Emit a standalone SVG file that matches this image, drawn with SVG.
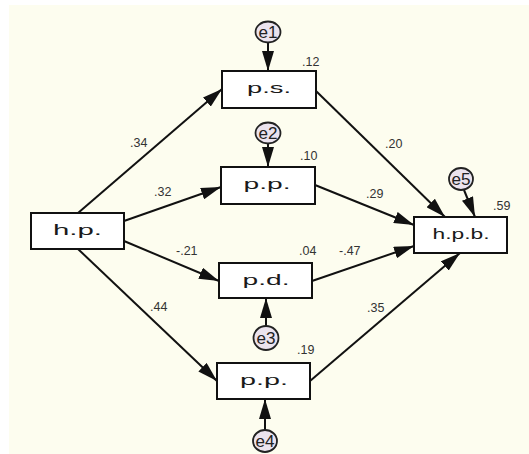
<svg xmlns="http://www.w3.org/2000/svg" width="529" height="454" viewBox="0 0 529 454">
<style>
.box{fill:#ffffff;stroke:#111;stroke-width:2}
.lbl{font-family:"Liberation Sans",Arial,sans-serif;font-size:15.5px;fill:#1a1a1a;text-anchor:middle}
.num{font-family:"Liberation Sans",Arial,sans-serif;font-size:12.5px;fill:#333}
.err{fill:#ebe3ee;stroke:#222;stroke-width:1.8}
.etx{font-family:"Liberation Sans",Arial,sans-serif;font-size:16px;fill:#222;text-anchor:middle}
.con{stroke:#111;stroke-width:2;fill:none;marker-end:url(#ah)}
</style>
<defs>
<marker id="ah" markerUnits="userSpaceOnUse" markerWidth="20" markerHeight="12" refX="20" refY="6" orient="auto">
<path d="M0,0 L20,6 L0,12 z" fill="#111"/>
</marker>
</defs>
<rect x="9" y="5" width="520" height="449" fill="#fdfdef"/>
<g id="connectors">
<line class="con" x1="78" y1="213" x2="222" y2="89"/>
<line class="con" x1="124" y1="221" x2="221" y2="187"/>
<line class="con" x1="124" y1="241" x2="219" y2="281"/>
<line class="con" x1="78" y1="249" x2="217" y2="381"/>
<line class="con" x1="316" y1="91" x2="445" y2="217"/>
<line class="con" x1="315" y1="185" x2="414" y2="225"/>
<line class="con" x1="312" y1="281" x2="414" y2="246"/>
<line class="con" x1="310" y1="381" x2="460" y2="253"/>
<line class="con" x1="268" y1="42" x2="268" y2="71"/>
<line class="con" x1="268" y1="143" x2="268" y2="167"/>
<line class="con" x1="266" y1="326" x2="266" y2="298"/>
<line class="con" x1="265" y1="430" x2="265" y2="399"/>
<line class="con" x1="464" y1="190" x2="475" y2="217"/>
</g>
<g id="hp">
<rect class="box" x="31" y="213" width="93" height="36"/>
<text class="lbl" x="77.5" y="235" textLength="49" lengthAdjust="spacingAndGlyphs">h.p.</text>
</g>
<g id="ps">
<rect class="box" x="222" y="71" width="94" height="37"/>
<text class="lbl" x="269" y="93" textLength="44" lengthAdjust="spacingAndGlyphs">p.s.</text>
</g>
<g id="pp1">
<rect class="box" x="221" y="167" width="94" height="37"/>
<text class="lbl" x="267" y="189" textLength="47" lengthAdjust="spacingAndGlyphs">p.p.</text>
</g>
<g id="pd">
<rect class="box" x="219" y="263" width="93" height="35"/>
<text class="lbl" x="266" y="285" textLength="47" lengthAdjust="spacingAndGlyphs">p.d.</text>
</g>
<g id="pp2">
<rect class="box" x="217" y="363" width="93" height="36"/>
<text class="lbl" x="264" y="385" textLength="48" lengthAdjust="spacingAndGlyphs">p.p.</text>
</g>
<g id="hpb">
<rect class="box" x="414" y="217" width="93" height="36"/>
<text class="lbl" x="461" y="239" textLength="57" lengthAdjust="spacingAndGlyphs">h.p.b.</text>
</g>
<g id="e1"><ellipse class="err" cx="268" cy="32" rx="12.5" ry="10.5"/><text class="etx" x="268" y="38" textLength="19" lengthAdjust="spacingAndGlyphs">e1</text></g>
<g id="e2"><ellipse class="err" cx="268" cy="133" rx="12.5" ry="10.5"/><text class="etx" x="268" y="139" textLength="19" lengthAdjust="spacingAndGlyphs">e2</text></g>
<g id="e3"><ellipse class="err" cx="266" cy="338" rx="12.5" ry="12"/><text class="etx" x="266" y="344" textLength="19" lengthAdjust="spacingAndGlyphs">e3</text></g>
<g id="e4"><ellipse class="err" cx="265" cy="441" rx="12" ry="11"/><text class="etx" x="265" y="447" textLength="19" lengthAdjust="spacingAndGlyphs">e4</text></g>
<g id="e5"><ellipse class="err" cx="461" cy="179" rx="12" ry="11"/><text class="etx" x="461" y="185" textLength="19" lengthAdjust="spacingAndGlyphs">e5</text></g>
<g id="labels">
<text class="num" x="302" y="66">.12</text>
<text class="num" x="130" y="147">.34</text>
<text class="num" x="385" y="148">.20</text>
<text class="num" x="300" y="160">.10</text>
<text class="num" x="154" y="196">.32</text>
<text class="num" x="366" y="198">.29</text>
<text class="num" x="493" y="210">.59</text>
<text class="num" x="176" y="255">-.21</text>
<text class="num" x="299" y="255">.04</text>
<text class="num" x="339" y="255">-.47</text>
<text class="num" x="150" y="311">.44</text>
<text class="num" x="367" y="312">.35</text>
<text class="num" x="297" y="354">.19</text>
</g>
</svg>
